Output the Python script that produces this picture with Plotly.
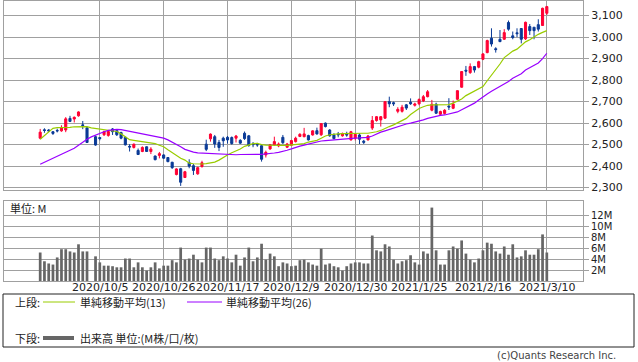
import plotly.graph_objects as go
import pandas as pd

# ---------------- data ----------------
holidays = ["2020-09-21", "2020-09-22", "2020-11-03", "2020-11-23", "2020-12-31",
            "2021-01-01", "2021-01-11", "2021-02-11", "2021-02-23"]
dates = pd.bdate_range("2020-09-11", "2021-03-10", freq="C", holidays=holidays)
date_labels = [f"{d.year}/{d.month}/{d.day}" for d in dates]

open_ = [2530, 2569, 2568, 2560, 2566, 2564, 2568, 2622, 2619, 2634, 2592, 2578, None, 2537, 2533,
         2546, 2543, 2573, 2565, 2556, 2534, 2492, 2487, 2473, 2468, 2490, 2468, 2447, 2450, 2452,
         2440, 2418, 2361, 2388, 2347, 2416, 2402, 2364, 2398, 2502, 2527, 2537, 2510, 2530, 2534,
         2533, 2530, 2520, 2553, 2541, 2503, 2502, 2495, 2452, 2480, 2499, 2494, 2534, 2488, 2497,
         2514, 2538, 2537, 2542, 2545, 2565, 2546, 2600, 2568, 2545, 2549, 2541, 2548, 2522, 2530,
         2545, 2516, 2522, 2577, 2612, 2615, 2623, 2700, 2695, 2655, 2655, 2685, 2697, 2683, 2690,
         2703, 2723, 2660, 2688, 2641, 2645, 2679, 2669, 2711, 2767, 2846, 2835, 2863, 2860, 2897,
         2928, 2995, 2946, 2990, 2990, 3068, 3006, 3020, 3040, 2992, 3049, 3046, 3058, 3054, 3111]
high = [2573, 2576, 2572, 2563, 2574, 2590, 2628, 2634, 2631, 2655, 2610, 2580, None, 2542, 2535,
        2565, 2567, 2577, 2570, 2560, 2537, 2502, 2505, 2482, 2492, 2492, 2488, 2449, 2466, 2455,
        2442, 2420, 2390, 2392, 2378, 2432, 2410, 2397, 2425, 2523, 2552, 2545, 2522, 2537, 2540,
        2538, 2545, 2525, 2561, 2545, 2512, 2508, 2500, 2472, 2503, 2537, 2510, 2545, 2508, 2522,
        2537, 2553, 2578, 2546, 2567, 2579, 2600, 2603, 2572, 2553, 2559, 2556, 2560, 2564, 2552,
        2553, 2522, 2545, 2633, 2633, 2633, 2702, 2723, 2700, 2674, 2685, 2689, 2715, 2695, 2715,
        2731, 2754, 2708, 2695, 2658, 2665, 2716, 2705, 2752, 2842, 2866, 2878, 2866, 2890, 2925,
        2988, 3041, 2953, 3033, 3037, 3077, 3026, 3041, 3042, 3072, 3061, 3046, 3083, 3137, 3145]
low = [2525, 2555, 2560, 2545, 2557, 2560, 2558, 2605, 2603, 2630, 2572, 2508, None, 2495, 2520,
       2540, 2537, 2545, 2540, 2525, 2496, 2468, 2482, 2452, 2465, 2466, 2456, 2427, 2436, 2434,
       2418, 2387, 2357, 2308, 2345, 2390, 2359, 2360, 2393, 2470, 2514, 2485, 2470, 2490, 2505,
       2500, 2510, 2503, 2522, 2490, 2488, 2490, 2421, 2440, 2476, 2495, 2488, 2503, 2484, 2493,
       2510, 2535, 2534, 2519, 2542, 2546, 2540, 2580, 2537, 2525, 2534, 2537, 2537, 2519, 2520,
       2503, 2503, 2519, 2568, 2607, 2584, 2620, 2674, 2680, 2646, 2649, 2661, 2685, 2677, 2683,
       2698, 2720, 2655, 2643, 2638, 2640, 2661, 2665, 2708, 2765, 2820, 2829, 2835, 2855, 2893,
       2925, 2956, 2928, 2977, 2987, 3030, 2990, 3000, 2971, 2987, 3010, 2990, 3026, 3052, 3103]
close = [2558, 2566, 2564, 2552, 2564, 2580, 2620, 2608, 2627, 2652, 2589, 2510, None, 2498, 2528,
         2560, 2561, 2560, 2546, 2530, 2499, 2489, 2502, 2454, 2487, 2468, 2479, 2430, 2458, 2437,
         2421, 2393, 2387, 2325, 2374, 2400, 2380, 2393, 2416, 2478, 2549, 2503, 2487, 2518, 2522,
         2505, 2540, 2507, 2528, 2496, 2500, 2499, 2432, 2464, 2499, 2514, 2503, 2509, 2503, 2519,
         2530, 2548, 2550, 2522, 2564, 2550, 2598, 2584, 2541, 2528, 2546, 2552, 2545, 2560, 2548,
         2525, 2511, 2540, 2612, 2630, 2630, 2700, 2690, 2690, 2664, 2674, 2670, 2690, 2689, 2710,
         2723, 2746, 2688, 2646, 2654, 2660, 2675, 2689, 2751, 2840, 2842, 2863, 2847, 2886, 2922,
         2984, 2968, 2942, 2979, 3021, 3037, 2998, 3016, 2990, 3069, 3030, 3030, 3037, 3134, 3142]
volume_m = [5.2, 3.6, 3.2, 3.0, 4.3, 5.8, 5.8, 5.4, 5.2, 6.7, 5.4, 5.4, None,
            4.5, 3.4, 2.8, 2.8, 2.7, 2.5, 2.5, 4.1, 4.1, 2.5, 3.4, 2.5, 1.9, 2.5, 3.4, 2.3,
            2.8, 2.8, 3.8, 3.4, 6.1, 3.9, 4.1, 4.8, 3.9, 3.4, 6.1, 6.1, 4.1, 3.8, 4.5, 4.1,
            3.4, 4.8, 2.8, 4.3, 6.1, 3.6, 4.3, 6.8, 3.9, 5.0, 4.5, 2.7, 3.4, 3.2, 2.7, 2.8,
            3.8, 3.9, 3.4, 3.0, 2.8,
            5.9, 3.0, 3.2, 2.7, 2.5, 1.9, 2.7, 3.2, 3.4, 3.4, 3.2, 3.2, 8.3, 5.6, 5.4, 6.7,
            6.3, 3.9, 3.2, 3.6, 3.8, 4.7, 3.4, 3.0, 5.4, 5.0, 13.4, 5.6, 3.0, 3.0, 5.6, 6.3,
            5.9, 7.4, 5.0, 3.9, 3.4, 4.1, 5.6, 7.0, 6.8, 5.4, 5.0, 6.3, 4.8, 6.7, 4.3, 4.5,
            5.6, 4.8, 4.8, 5.8, 8.5, 5.2]
ma13 = [2525, 2543, 2562, 2576, 2579, 2579, 2579, 2580, 2583, 2584, 2584, 2584, 2578, 2575, 2571,
        2570, 2568, 2565, 2561, 2550, 2538, 2523, 2520, 2517, 2514, 2512, 2510, 2505, 2497, 2490,
        2476, 2462, 2450, 2437, 2428, 2414, 2411, 2409, 2410, 2412, 2415, 2419, 2428, 2442, 2452,
        2462, 2470, 2480, 2492, 2500, 2505, 2506, 2500, 2498, 2497, 2497, 2497, 2497, 2497, 2499,
        2502, 2502, 2505, 2512, 2515, 2520, 2530, 2540, 2546, 2549, 2550, 2551, 2552, 2553, 2553,
        2553, 2553, 2553, 2555, 2560, 2566, 2576, 2584, 2592, 2603, 2612, 2622, 2640, 2655, 2668,
        2676, 2683, 2685, 2685, 2685, 2685, 2686, 2693, 2702, 2712, 2728, 2738, 2749, 2758, 2770,
        2797, 2822, 2848, 2875, 2905, 2920, 2935, 2944, 2960, 2978, 2988, 3002, 3013, 3022, 3030]
ma26 = [2409, 2418, 2428, 2437, 2446, 2455, 2463, 2473, 2483, 2497, 2512, 2525, 2536, 2545, 2553,
        2560, 2566, 2569, 2571, 2570, 2566, 2561, 2555, 2552, 2548, 2545, 2541, 2538, 2534, 2530,
        2522, 2512, 2500, 2490, 2478, 2470, 2465, 2462, 2461, 2460, 2459, 2458, 2457, 2455, 2453,
        2452, 2453, 2454, 2455, 2455, 2455, 2455, 2455, 2456, 2459, 2461, 2464, 2468, 2474, 2480,
        2488, 2493, 2498, 2503, 2507, 2513, 2517, 2519, 2521, 2523, 2525, 2526, 2527, 2529, 2530,
        2531, 2532, 2534, 2540, 2550, 2558, 2564, 2571, 2578, 2585, 2590, 2596, 2600, 2604, 2609,
        2615, 2622, 2627, 2632, 2636, 2638, 2642, 2646, 2652, 2662, 2672, 2680, 2693, 2708, 2723,
        2736, 2748, 2760, 2770, 2780, 2794, 2809, 2820, 2830, 2847, 2858, 2870, 2880, 2900, 2925]
tick_dates = ["2020/10/5", "2020/10/26", "2020/11/17", "2020/12/9", "2020/12/30",
              "2021/1/25", "2021/2/16", "2021/3/10"]
price_ticks = [2300, 2400, 2500, 2600, 2700, 2800, 2900, 3000, 3100]
vol_ticks = [2, 4, 6, 8, 10, 12]
vol_tick_text = ["2M", "4M", "6M", "8M", "10M", "12M"]

# ---------------- figure ----------------
W, H = 638, 362
RED, BLUE = "#ff0033", "#0a3a96"
GREEN, PURPLE = "#99cc00", "#9900ff"
GRID = "#a0a0a0"
NUM_FONT = "DejaVu Sans"
JP_FONT = "Noto Sans CJK JP"

def px(x):
    return x / W

def py(y):
    return 1 - y / H

fig = go.Figure()
fig.add_trace(go.Candlestick(
    x=date_labels, open=open_, high=high, low=low, close=close,
    increasing=dict(line=dict(color=RED, width=1), fillcolor=RED),
    decreasing=dict(line=dict(color=BLUE, width=1), fillcolor=BLUE),
    whiskerwidth=0, xaxis="x", yaxis="y", showlegend=False, hoverinfo="skip"))
fig.add_trace(go.Scatter(x=date_labels, y=ma13, mode="lines",
                         line=dict(color=GREEN, width=1.2), xaxis="x", yaxis="y",
                         showlegend=False, hoverinfo="skip"))
fig.add_trace(go.Scatter(x=date_labels, y=ma26, mode="lines",
                         line=dict(color=PURPLE, width=1.2), xaxis="x", yaxis="y",
                         showlegend=False, hoverinfo="skip"))
fig.add_trace(go.Bar(x=date_labels, y=volume_m, marker=dict(color="#666666", line=dict(width=0)),
                     xaxis="x2", yaxis="y2", showlegend=False, hoverinfo="skip"))

xr = [-8.5, 127.5]
xdom = [px(4), px(583)]
common_x = dict(type="category", categoryorder="array", categoryarray=date_labels,
                range=xr, domain=xdom, tickvals=tick_dates, ticktext=tick_dates,
                tickangle=0, automargin=False, showticklabels=False,
                showgrid=True, gridcolor=GRID, gridwidth=1, showline=True, mirror=True,
                linecolor=GRID, linewidth=1, ticks="", zeroline=False, fixedrange=True)

fig.update_layout(
    width=W, height=H, autosize=False,
    margin=dict(l=0, r=0, t=0, b=0, autoexpand=False),
    paper_bgcolor="white", plot_bgcolor="white",
    bargap=0.36,
    xaxis=dict(**common_x, anchor="y", rangeslider=dict(visible=False)),
    xaxis2=dict(**common_x, anchor="y2"),
    yaxis=dict(domain=[py(190), py(1)], range=[2289, 3168], side="right",
               tickvals=price_ticks, tickformat=",", showgrid=True, gridcolor=GRID,
               showline=True, mirror=True, linecolor=GRID, ticks="outside", ticklen=5,
               tickcolor=GRID, tickfont=dict(family=NUM_FONT, size=11, color="#222"),
               zeroline=False, fixedrange=True, automargin=False),
    yaxis2=dict(domain=[py(281), py(201)], range=[0, 14.6], side="right",
                tickvals=vol_ticks, ticktext=vol_tick_text, showgrid=True, gridcolor=GRID,
                showline=True, mirror=True, linecolor=GRID, ticks="outside", ticklen=5,
                tickcolor=GRID, tickfont=dict(family=NUM_FONT, size=10, color="#222"),
                zeroline=False, fixedrange=True, automargin=False),
)

# date labels under the volume panel
for d in tick_dates:
    fig.add_annotation(x=d, xref="x2", y=py(287), yref="paper", text=d, showarrow=False,
                       xanchor="center", yanchor="middle",
                       font=dict(family=NUM_FONT, size=11, color="#222"))

# unit label in volume panel
fig.add_annotation(x=px(8), y=py(208), xref="paper", yref="paper", text="単位: M",
                   showarrow=False, xanchor="left", yanchor="middle",
                   font=dict(family=JP_FONT, size=11, color="#222"))

# legend box
fig.add_shape(type="rect", xref="paper", yref="paper", x0=px(3), x1=px(634),
              y0=py(347), y1=py(294), line=dict(color="#222", width=1))
fig.add_shape(type="line", xref="paper", yref="paper", x0=px(43), x1=px(75),
              y0=py(302), y1=py(302), line=dict(color=GREEN, width=1))
fig.add_shape(type="line", xref="paper", yref="paper", x0=px(187), x1=px(222),
              y0=py(302), y1=py(302), line=dict(color=PURPLE, width=1))
fig.add_shape(type="line", xref="paper", yref="paper", x0=px(43), x1=px(74),
              y0=py(338), y1=py(338), line=dict(color="#666666", width=4))

legend_texts = [
    (13, 302, "上段:"),
    (78, 302, "単純移動平均(13)"),
    (224, 302, "単純移動平均(26)"),
    (13, 338, "下段:"),
    (78, 338, "出来高 単位:(M株/口/枚)"),
]
for lx, ly, t in legend_texts:
    fig.add_annotation(x=px(lx), y=py(ly), xref="paper", yref="paper", text=t,
                       showarrow=False, xanchor="left", yanchor="middle",
                       font=dict(family=JP_FONT, size=11, color="#222"))

fig.add_annotation(x=px(618), y=py(355), xref="paper", yref="paper",
                   text="(c)Quants Research Inc.", showarrow=False,
                   xanchor="right", yanchor="middle",
                   font=dict(family=NUM_FONT, size=10, color="#444"))

fig.write_html("out.html", config={"displayModeBar": False},
               post_script="document.body.style.margin='0';document.body.style.padding='0';")
